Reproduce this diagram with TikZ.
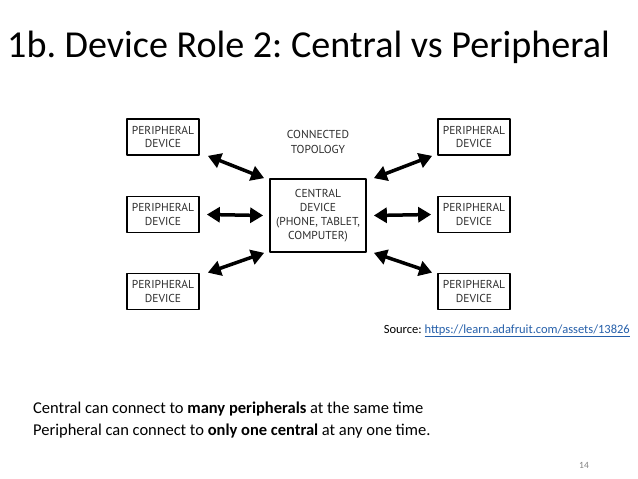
\documentclass[tikz,border=0pt]{standalone}
\usepackage{fontspec}
\setmainfont{Carlito}
\newfontfamily\diagfont{PT Sans}
\usetikzlibrary{arrows.meta}
\definecolor{linkblue}{RGB}{38,96,170}
\definecolor{pagegray}{RGB}{130,130,130}
\definecolor{diagtext}{RGB}{45,45,45}
\frenchspacing

\tikzset{
  periph/.style={draw, line width=1.7pt, minimum width=72pt, minimum height=36pt,
                 align=center, inner sep=0pt, text=diagtext, font=\diagfont\fontsize{11.5}{13.5}\selectfont},
  centralbox/.style={draw, line width=1.7pt, minimum width=96pt, minimum height=73pt,
                 align=center, inner sep=0pt, text=diagtext, font=\diagfont\fontsize{11.5}{14}\selectfont},
  bigarrow/.style={line width=3.5pt, {Triangle[length=13pt,width=15pt]}-{Triangle[length=13pt,width=15pt]}}
}

\begin{document}
\begin{tikzpicture}[line cap=round, line join=round, x=1pt, y=-1pt]
  \useasboundingbox[fill=white] (0,0) rectangle (638,479);
  % title
  \node[anchor=base west, inner sep=0pt, font=\fontsize{38.1}{40}\selectfont] (title) at (7,57)
    {1b. Device Role 2: Central vs Peripheral};
  % diagram
  \node[centralbox] (central) at (318,215.5) {CENTRAL\\DEVICE\\(PHONE, TABLET,\\COMPUTER)};
  \node[align=center, text=diagtext, font=\diagfont\fontsize{11.5}{15}\selectfont] (topo) at (318,142) {CONNECTED\\TOPOLOGY};
  \foreach \name/\x/\y in {pTL/163/137, pML/163/214.5, pBL/163/291.5, pTR/474/137, pMR/474/214.5, pBR/474/291.5}
    \node[periph] (\name) at (\x,\y) {PERIPHERAL\\DEVICE};
  \draw[bigarrow] ([xshift=8]pTL.south east) -- ([xshift=-5]central.north west);
  \draw[bigarrow] ([xshift=7]pML.east) -- ([xshift=-6]central.west);
  \draw[bigarrow] ([xshift=8]pBL.north east) -- ([xshift=-5]central.south west);
  \draw[bigarrow] ([xshift=-5]pTR.south west) -- ([xshift=7]central.north east);
  \draw[bigarrow] ([xshift=-6]pMR.west) -- ([xshift=7]central.east);
  \draw[bigarrow] ([xshift=-5]pBR.north west) -- ([xshift=7]central.south east);
  % source and notes
  \node[anchor=base east, inner sep=0pt, font=\fontsize{12.5}{14}\selectfont] (source) at (630,333)
    {Source: \textcolor{linkblue}{\underline{https://learn.adafruit.com/assets/13826}}};
  \node[anchor=base west, align=left, inner sep=0pt, font=\fontsize{16.5}{22}\selectfont] (notes) at (33,435)
    {Central can connect to \textbf{many peripherals} at the same time\\
     Peripheral can connect to \textbf{only one central} at any one time.};
  \node[anchor=base, inner sep=0pt, text=pagegray, font=\fontsize{9.5}{10}\selectfont] (page) at (584,468) {14};
\end{tikzpicture}
\end{document}
